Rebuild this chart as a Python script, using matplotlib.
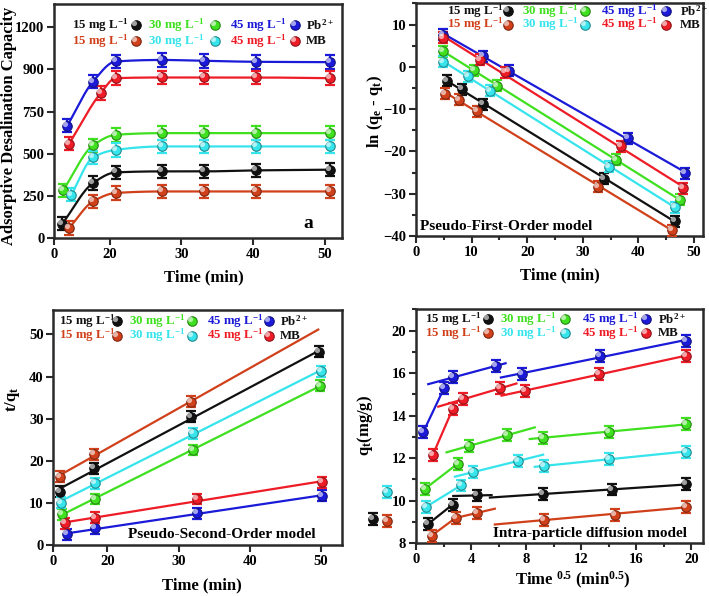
import numpy as np
import matplotlib
matplotlib.use('Agg')
import matplotlib.pyplot as plt
from matplotlib.path import Path
from matplotlib.ticker import MultipleLocator, FixedLocator
from matplotlib.colors import to_rgb

plt.rcParams['font.family'] = ['Liberation Serif', 'DejaVu Serif']
plt.rcParams['font.weight'] = 'bold'
plt.rcParams['mathtext.fontset'] = 'custom'
plt.rcParams['mathtext.rm'] = 'Liberation Serif:bold'
plt.rcParams['mathtext.it'] = 'Liberation Serif:italic:bold'
plt.rcParams['mathtext.bf'] = 'Liberation Serif:bold'

# ---------------- series meta ----------------
series = ['pb15', 'pb30', 'pb45', 'mb15', 'mb30', 'mb45']
colors = {'pb15': '#111111', 'pb30': '#3fe01f', 'pb45': '#1a1ad8',
          'mb15': '#d0401a', 'mb30': '#36e4ec', 'mb45': '#ee1c26'}

# ---------------- panel a : kinetics ----------------
a_t = {'pb15': [13.40, 17.67, 20.84, 27.35, 33.20, 40.40, 50.70],
       'pb30': [13.49, 17.67, 20.84, 27.35, 33.20, 40.40, 50.70],
       'pb45': [14.09, 17.67, 20.84, 27.35, 33.20, 40.40, 50.70],
       'mb15': [14.33, 17.67, 20.84, 27.35, 33.20, 40.40, 50.70],
       'mb30': [14.65, 17.67, 20.84, 27.35, 33.20, 40.40, 50.70],
       'mb45': [14.33, 18.74, 20.84, 27.35, 33.20, 40.40, 50.70]}
a_q = {'pb15': [85, 326, 389, 395, 395, 401, 405],
       'pb30': [282, 549, 612, 622, 622, 622, 622],
       'pb45': [667, 928, 1047, 1056, 1051, 1045, 1043],
       'mb15': [59, 217, 267, 276, 276, 276, 276],
       'mb30': [257, 478, 523, 543, 543, 543, 543],
       'mb45': [559, 859, 948, 952, 952, 952, 948]}
a_err = 40
a_xticks_labels = ['0', '20', '30', '40', '50']
a_yticks_labels = ['0', '250', '500', '750', '900', '1200']

# ---------------- panel b : pseudo-first-order ----------------
b_t = {'pb15': [5.50, 8.30, 12.07, 33.75, 46.59],
       'pb30': [4.90, 10.39, 14.64, 35.96, 47.49],
       'pb45': [4.90, 12.07, 16.73, 38.05, 48.39],
       'mb15': [5.20, 7.77, 11.05, 32.68, 46.12],
       'mb30': [4.90, 9.38, 13.26, 34.77, 46.59],
       'mb45': [4.90, 11.50, 16.00, 36.86, 48.03]}
b_y = {'pb15': [-3.27, -5.25, -8.80, -26.49, -36.45],
       'pb30': [3.68, -0.82, -4.45, -21.99, -31.47],
       'pb45': [7.63, 2.50, -0.90, -16.86, -25.15],
       'mb15': [-6.35, -7.77, -10.54, -28.31, -38.58],
       'mb30': [1.15, -2.24, -5.64, -23.57, -33.21],
       'mb45': [6.84, 1.71, -1.30, -18.83, -28.70]}
b_err = 1.3

# ---------------- panel c : pseudo-second-order ----------------
c_t = {'pb15': [13.27, 18.08, 31.74, 49.77],
       'pb30': [13.55, 18.22, 31.98, 49.87],
       'pb45': [14.35, 18.32, 32.58, 50.10],
       'mb15': [13.27, 18.08, 31.74],
       'mb30': [13.41, 18.22, 31.98, 49.96],
       'mb45': [14.02, 18.22, 32.58, 50.10]}
c_y = {'pb15': [12.66, 18.20, 30.46, 45.89],
       'pb30': [7.28, 10.92, 22.55, 37.82],
       'pb45': [2.53, 3.96, 7.52, 11.71],
       'mb15': [16.22, 21.52, 34.02],
       'mb30': [10.05, 14.64, 26.50, 41.30],
       'mb45': [5.14, 6.49, 10.92, 14.87]}
c_err = 1.3
c_xticks_labels = ['0', '20', '30', '40', '50']

# ---------------- panel d : intra-particle diffusion ----------------
d_t = {'pb15': [0.89, 2.66, 4.40, 9.24, 14.24, 19.64],
       'pb30': [0.65, 3.02, 3.85, 6.58, 9.24, 14.00, 19.64],
       'pb45': [0.53, 2.06, 2.71, 5.85, 7.67, 13.35, 19.64],
       'mb15': [1.14, 2.88, 4.45, 9.31, 14.44, 19.64],
       'mb30': [0.70, 3.26, 4.16, 7.38, 9.31, 14.03, 19.64],
       'mb45': [1.21, 2.66, 3.43, 6.09, 7.91, 13.30, 19.64]}
d_q = {'pb15': [8.90, 9.81, 10.24, 10.31, 10.52, 10.76],
       'pb30': [10.55, 11.73, 12.57, 13.07, 12.96, 13.24, 13.59],
       'pb45': [13.23, 15.32, 15.80, 16.35, 15.95, 16.82, 17.53],
       'mb15': [8.35, 9.18, 9.42, 9.10, 9.34, 9.70],
       'mb30': [9.69, 10.71, 11.34, 11.86, 11.62, 11.97, 12.30],
       'mb45': [12.13, 14.30, 14.77, 15.28, 15.17, 15.95, 16.82]}
d_err = 0.28
# stray points drawn left of the axis in the original
d_out_t = {'pb15': [-3.10], 'mb15': [-2.08], 'mb30': [-2.13]}
d_out_q = {'pb15': [9.13], 'mb15': [9.02], 'mb30': [10.39]}
# segments: (point indices used for fit, x-start, x-end)
d_segs = {'pb45': [([0, 1], 0.53, 2.06), ([2, 3], 0.89, 6.51), ([4, 5, 6], 6.17, 19.64)],
          'mb45': [([0, 1], 1.21, 2.66), ([2, 3], 1.62, 7.30), ([4, 5, 6], 6.22, 19.64)],
          'pb30': [([0, 1], 0.53, 3.07), ([2, 3], 2.22, 8.63), ([4, 5, 6], 8.27, 19.64)],
          'mb30': [([0, 1], 0.50, 3.30), ([2, 3], 2.83, 9.24), ([4, 5, 6], 8.63, 19.64)],
          'pb15': [([0, 1], 0.65, 2.66), ([2, 3], 2.71, 5.49), ([3, 4, 5], 5.37, 19.64)],
          'mb15': [([0, 1], 1.14, 2.88), ([1, 2], 2.71, 5.73), ([3, 4, 5], 5.73, 19.64)]}
d_yticks_labels = ['8', '10', '12', '14', '16', '20']

legend_rows = [('pb15', 'pb30', 'pb45', r'Pb$^{\mathregular{2+}}$'),
               ('mb15', 'mb30', 'mb45', 'MB')]
conc_label = {'pb15': '15', 'pb30': '30', 'pb45': '45', 'mb15': '15', 'mb30': '30', 'mb45': '45'}

# ---------------- helpers ----------------
HL = Path.circle(center=(-0.28, 0.28), radius=0.36)
MS = 6.8


def darker(c, f=0.6):
    r, g, b = to_rgb(c)
    return (r * f, g * f, b * f)


def balls(ax, x, y, c, err=None, clip=True, zorder=4):
    if err is not None:
        ax.errorbar(x, y, yerr=err, fmt='none', ecolor=c, elinewidth=1.6,
                    capsize=3.6, capthick=1.6, zorder=zorder - 1, clip_on=clip)
    ax.plot(x, y, 'o', ms=MS, mfc=c, mec=darker(c), mew=0.8, zorder=zorder, clip_on=clip)
    ax.plot(x, y, ls='none', marker=HL, ms=MS, mfc='white', mec='none', alpha=0.6,
            zorder=zorder + 0.1, clip_on=clip)


def legend(ax, xs, ys, fs=9.3):
    for row, yy in zip(legend_rows, ys):
        for k, s in enumerate(row[:3]):
            ax.text(xs[2 * k], yy, conc_label[s] + r' mg L$^{\mathregular{-1}}$', color=colors[s],
                    fontsize=fs, fontweight='bold', transform=ax.transAxes, va='center', ha='left')
            balls(ax, [xs[2 * k + 1]], [yy], colors[s], clip=False)
            ax.lines[-1].set_transform(ax.transAxes)
            ax.lines[-2].set_transform(ax.transAxes)
        ax.text(xs[6], yy, row[3], color='#111111', fontsize=fs, fontweight='bold',
                transform=ax.transAxes, va='center', ha='left')


def pchip(x, y, n=200):
    x = np.asarray(x, float)
    y = np.asarray(y, float)
    h = np.diff(x)
    d = np.diff(y) / h
    m = np.zeros_like(y)
    for i in range(1, len(x) - 1):
        if d[i - 1] * d[i] <= 0:
            m[i] = 0
        else:
            w1 = 2 * h[i] + h[i - 1]
            w2 = h[i] + 2 * h[i - 1]
            m[i] = (w1 + w2) / (w1 / d[i - 1] + w2 / d[i])
    m[0] = d[0]
    m[-1] = d[-1]
    xs = np.linspace(x[0], x[-1], n)
    idx = np.clip(np.searchsorted(x, xs) - 1, 0, len(x) - 2)
    t = (xs - x[idx]) / h[idx]
    h00 = 2 * t ** 3 - 3 * t ** 2 + 1
    h10 = t ** 3 - 2 * t ** 2 + t
    h01 = -2 * t ** 3 + 3 * t ** 2
    h11 = t ** 3 - t ** 2
    ys = h00 * y[idx] + h10 * h[idx] * m[idx] + h01 * y[idx + 1] + h11 * h[idx] * m[idx + 1]
    return xs, ys


def style(ax):
    for sp in ax.spines.values():
        sp.set_linewidth(1.8)
        sp.set_color('#2a2a2a')
    ax.tick_params(which='both', direction='out', top=False, right=False,
                   width=1.5, color='#2a2a2a', labelsize=10.5, pad=2)
    ax.tick_params(which='major', length=5)
    ax.tick_params(which='minor', length=3)
    for lab in ax.get_xticklabels() + ax.get_yticklabels():
        lab.set_fontweight('bold')


fig = plt.figure(figsize=(7.09, 5.96), dpi=100)
axa = fig.add_axes([0.0762, 0.6007, 0.4062, 0.3926])
axb = fig.add_axes([0.5867, 0.6040, 0.4048, 0.3910])
axc = fig.add_axes([0.0752, 0.0856, 0.4068, 0.3943])
axd = fig.add_axes([0.5867, 0.0889, 0.4048, 0.3926])

# ---- panel a ----
for s in series:
    xs, ys = pchip(a_t[s], a_q[s])
    axa.plot(xs, ys, color=colors[s], lw=1.6, zorder=2)
    balls(axa, a_t[s], a_q[s], colors[s], err=a_err)
axa.set_xlim(12.23, 52.4)
axa.set_ylim(0, 1388)
axa.xaxis.set_major_locator(FixedLocator([12.23, 20, 30, 40, 50]))
axa.set_xticklabels(a_xticks_labels)
axa.yaxis.set_major_locator(FixedLocator([0, 250, 500, 750, 1000, 1250]))
axa.set_yticklabels(a_yticks_labels)
axa.text(0.882, 0.064, 'a', transform=axa.transAxes, fontsize=14, fontweight='bold',
         ha='center', va='center')
legend(axa, [0.063, 0.286, 0.326, 0.558, 0.610, 0.836, 0.876], [0.910, 0.843])
axa.set_xlabel('Time (min)', fontsize=12, fontweight='bold')
axa.set_ylabel('Adsorptive Desalination Capacity', fontsize=12, fontweight='bold')
axa.xaxis.set_label_coords(0.52, -0.167)
axa.yaxis.set_label_coords(-0.156, 0.48)

# ---- panel b ----
for s in series:
    k, b0 = np.polyfit(b_t[s], b_y[s], 1)
    xx = np.array([b_t[s][0], b_t[s][-1]])
    axb.plot(xx, k * xx + b0, color=colors[s], lw=1.6, zorder=2)
    balls(axb, b_t[s], b_y[s], colors[s], err=b_err)
axb.set_xlim(0, 51.6)
axb.set_ylim(-40, 15.1)
axb.xaxis.set_major_locator(MultipleLocator(10))
axb.xaxis.set_minor_locator(MultipleLocator(5))
axb.yaxis.set_major_locator(MultipleLocator(10))
axb.yaxis.set_minor_locator(MultipleLocator(5))
axb.text(0.014, 0.040, 'Pseudo-First-Order model', transform=axb.transAxes, fontsize=11,
         fontweight='bold', ha='left', va='center')
legend(axb, [0.107, 0.321, 0.368, 0.588, 0.646, 0.872, 0.919], [0.964, 0.907])
axb.set_xlabel('Time (min)', fontsize=12, fontweight='bold')
axb.set_ylabel(r'ln (q$_{\mathregular{e}}$ - q$_{\mathregular{t}}$)', fontsize=12, fontweight='bold')
axb.xaxis.set_label_coords(0.50, -0.167)
axb.yaxis.set_label_coords(-0.143, 0.532)

# ---- panel c ----
for s in series:
    k, b0 = np.polyfit(c_t[s], c_y[s], 1)
    xx = np.array([c_t[s][0], 49.6])
    axc.plot(xx, k * xx + b0, color=colors[s], lw=1.6, zorder=2)
    balls(axc, c_t[s], c_y[s], colors[s], err=c_err)
axc.set_xlim(12.4, 52.9)
axc.set_ylim(0, 55.8)
axc.xaxis.set_major_locator(FixedLocator([12.4, 20, 30, 40, 50]))
axc.set_xticklabels(c_xticks_labels)
axc.yaxis.set_major_locator(MultipleLocator(10))
axc.text(0.26, 0.045, 'Pseudo-Second-Order model', transform=axc.transAxes, fontsize=11,
         fontweight='bold', ha='left', va='center')
legend(axc, [0.021, 0.222, 0.262, 0.480, 0.534, 0.749, 0.786], [0.953, 0.891])
axc.set_xlabel('Time (min)', fontsize=12, fontweight='bold')
axc.set_ylabel(r't/q$_{\mathregular{t}}$', fontsize=12, fontweight='bold')
axc.xaxis.set_label_coords(0.515, -0.170)
axc.yaxis.set_label_coords(-0.143, 0.62)

# ---- panel d ----
for s in series:
    tx = np.array(d_t[s])
    qy = np.array(d_q[s])
    for idx, x0, x1 in d_segs[s]:
        k, b0 = np.polyfit(tx[idx], qy[idx], 1)
        xx = np.array([x0, x1])
        axd.plot(xx, k * xx + b0, color=colors[s], lw=1.6, zorder=2)
    balls(axd, tx, qy, colors[s], err=d_err)
for s in d_out_t:
    balls(axd, d_out_t[s], d_out_q[s], colors[s], err=d_err, clip=False)
axd.set_xlim(0, 20.85)
axd.set_ylim(8, 19.02)
axd.xaxis.set_major_locator(MultipleLocator(4))
axd.xaxis.set_minor_locator(MultipleLocator(2))
axd.yaxis.set_major_locator(FixedLocator([8, 10, 12, 14, 16, 18]))
axd.set_yticklabels(d_yticks_labels)
axd.yaxis.set_minor_locator(MultipleLocator(1))
axd.text(0.267, 0.040, 'Intra-particle diffusion model', transform=axd.transAxes, fontsize=11,
         fontweight='bold', ha='left', va='center')
legend(axd, [0.031, 0.252, 0.292, 0.519, 0.577, 0.800, 0.843], [0.957, 0.896])
axd.set_xlabel(r'Time $^{\mathregular{0.5}}$ (min$^{\mathregular{0.5}}$)', fontsize=12, fontweight='bold')
axd.set_ylabel(r'q$_{\mathregular{t}}$(mg/g)', fontsize=12, fontweight='bold')
axd.xaxis.set_label_coords(0.547, -0.162)
axd.yaxis.set_label_coords(-0.178, 0.504)

for ax in (axa, axb, axc, axd):
    style(ax)
    ax.xaxis.label.set_va('center')
    ax.yaxis.label.set_va('center')

fig.savefig('out.png', dpi=100)
